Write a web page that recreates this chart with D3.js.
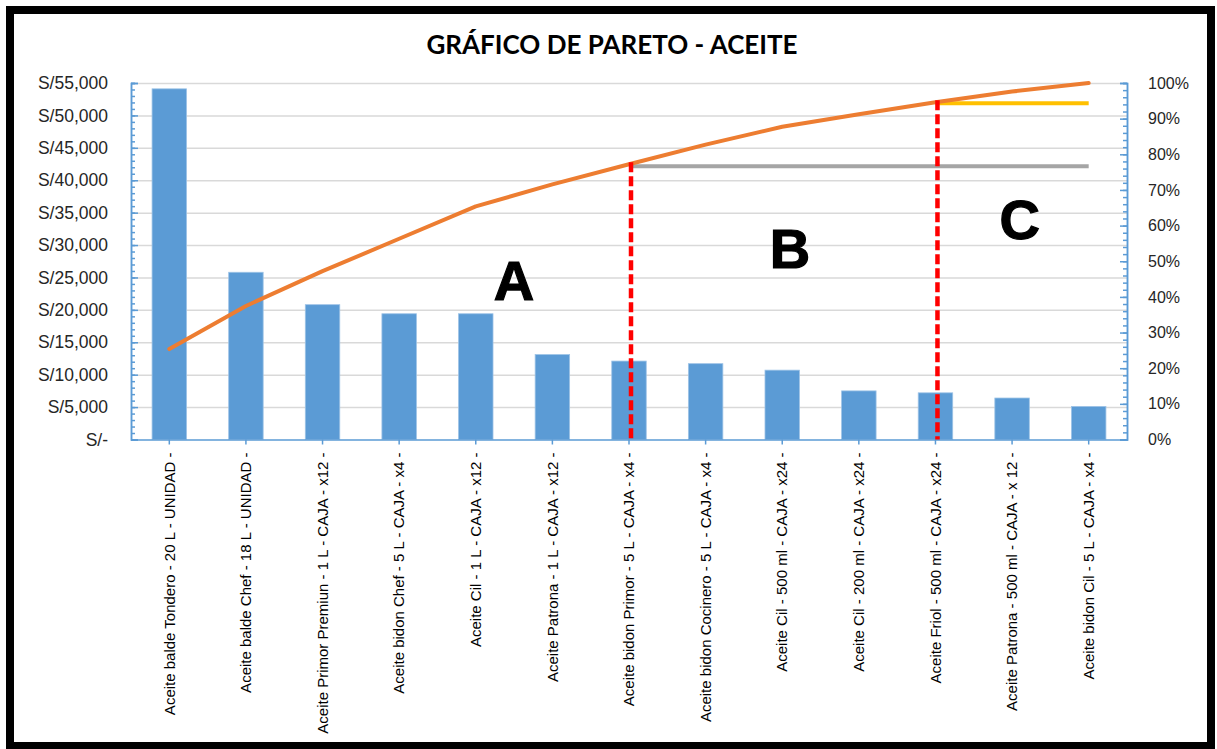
<!DOCTYPE html>
<html>
<head>
<meta charset="utf-8">
<script src="https://cdn.jsdelivr.net/npm/d3@7"></script>
<style>
    body { margin: 0; background: #fff; }
    svg { display: block; font-family: Lato, "Liberation Sans", sans-serif; }
    .grid line { stroke: #d9d9d9; stroke-width: 1.5; }
    .grid path { display: none; }
    .ax path, .ax line { stroke: #5b9bd5; stroke-width: 1.5; }
    .lbl path, .lbl line { display: none; }
    .lbl text { fill: #262626; font-size: 16px; }
    .lbl.izq text { font-size: 17.5px; }
    .xlbl text { fill: #000; font-size: 15px; }
</style>
</head>
<body>
<svg id="pareto"></svg>
<script>
// categories (already sorted as in the chart)
const productos = [
    "Aceite balde Tondero - 20 L - UNIDAD -",
    "Aceite balde Chef - 18 L - UNIDAD -",
    "Aceite Primor Premiun - 1 L - CAJA - x12 -",
    "Aceite bidon Chef - 5 L - CAJA - x4 -",
    "Aceite Cil - 1 L - CAJA - x12 -",
    "Aceite Patrona - 1 L - CAJA - x12 -",
    "Aceite bidon Primor - 5 L - CAJA - x4 -",
    "Aceite bidon Cocinero - 5 L - CAJA - x4 -",
    "Aceite Cil - 500 ml - CAJA - x24 -",
    "Aceite Cil - 200 ml - CAJA - x24 -",
    "Aceite Friol - 500 ml - CAJA - x24 -",
    "Aceite Patrona - 500 ml - CAJA - x 12 -",
    "Aceite bidon Cil - 5 L - CAJA - x4 -"
];
// ventas en soles
const ventas = [54100, 25800, 20800, 19400, 19400, 13100, 12100, 11700, 10700, 7500, 7200, 6400, 5100];

const yTicksLeft = [0, 5000, 10000, 15000, 20000, 25000, 30000, 35000, 40000, 45000, 50000, 55000];
const yTicksRight = [0, 0.1, 0.2, 0.3, 0.4, 0.5, 0.6, 0.7, 0.8, 0.9, 1];

// zone limits: index where A ends and where B ends
const zonaCortes = [6, 10];
const zonas = [
    { letra: "A", idx: 4.5, val: 21500 },
    { letra: "B", idx: 8.1, val: 26500 },
    { letra: "C", idx: 11.1, val: 31000 }
];

const W = 1217, H = 749;
const m = { left: 131, right: 1127, top: 83, bottom: 439.5 };

const svg = d3.select("#pareto").attr("width", W).attr("height", H);

// frame
svg.append("rect")
    .attr("x", 10).attr("y", 10)
    .attr("width", 1201).attr("height", 736)
    .attr("fill", "none").attr("stroke", "#000").attr("stroke-width", 8);

svg.append("text")
    .attr("x", 612).attr("y", 54)
    .attr("text-anchor", "middle")
    .style("font-size", "26px").style("font-weight", "bold")
    .text("GRÁFICO DE PARETO - ACEITE");

// scales
const x = d3.scaleBand()
    .domain(productos)
    .range([m.left, m.right])
    .paddingInner(0.55).paddingOuter(0.275);

const y = d3.scaleLinear().domain([0, 55000]).range([m.bottom, m.top]);
const yPct = d3.scaleLinear().domain([0, 1]).range([m.bottom, m.top]);

// cumulative %
const total = d3.sum(ventas);
const acum = Array.from(d3.cumsum(ventas), v => v / total);

// grid
svg.append("g").attr("class", "grid")
    .attr("transform", "translate(" + m.left + ",0)")
    .call(d3.axisRight(y).tickValues(yTicksLeft.slice(1)).tickSize(m.right - m.left).tickFormat(""));

// bars
svg.append("g").selectAll("rect")
    .data(ventas)
    .join("rect")
    .attr("x", (d, i) => x(productos[i]))
    .attr("y", d => y(d))
    .attr("width", x.bandwidth())
    .attr("height", d => y(0) - y(d))
    .attr("fill", "#5b9bd5")
    .attr("stroke", "#9dc3e6").attr("stroke-width", 0.8);

// left axis: minor ticks, major ticks, labels
svg.append("g").attr("class", "ax")
    .attr("transform", "translate(" + m.left + ",0)")
    .call(d3.axisRight(y).tickValues(d3.range(0, 55001, 1000)).tickSize(4).tickFormat(""));
svg.append("g").attr("class", "ax")
    .attr("transform", "translate(" + m.left + ",0)")
    .call(d3.axisRight(y).tickValues(yTicksLeft).tickSize(7).tickFormat(""));
svg.append("g").attr("class", "lbl izq")
    .attr("transform", "translate(" + m.left + ",0)")
    .call(d3.axisLeft(y).tickValues(yTicksLeft).tickSize(0).tickPadding(23)
        .tickFormat(d => d === 0 ? "S/-" : "S/" + d3.format(",")(d)));

// right axis
svg.append("g").attr("class", "ax")
    .attr("transform", "translate(" + m.right + ",0)")
    .call(d3.axisLeft(yPct).tickValues(d3.range(0, 1.0001, 0.02)).tickSize(4).tickFormat(""));
svg.append("g").attr("class", "ax")
    .attr("transform", "translate(" + m.right + ",0)")
    .call(d3.axisLeft(yPct).tickValues(yTicksRight).tickSize(7).tickFormat(""));
svg.append("g").attr("class", "lbl")
    .attr("transform", "translate(" + m.right + ",0)")
    .call(d3.axisRight(yPct).tickValues(yTicksRight).tickSize(0).tickPadding(21)
        .tickFormat(d3.format(".0%")));

// x axis
const xAxisG = svg.append("g").attr("class", "ax xlbl")
    .attr("transform", "translate(0," + m.bottom + ")")
    .call(d3.axisBottom(x).tickSize(5).tickSizeOuter(0));
xAxisG.selectAll("text")
    .attr("transform", "rotate(-90)")
    .attr("text-anchor", "end")
    .attr("x", -13).attr("y", 0).attr("dy", "0.35em");

const cx = i => x(productos[i]) + x.bandwidth() / 2;
const last = productos.length - 1;

// horizontal reference lines
svg.append("line")
    .attr("x1", cx(zonaCortes[0])).attr("x2", cx(last))
    .attr("y1", yPct(acum[zonaCortes[0]]) + 2).attr("y2", yPct(acum[zonaCortes[0]]) + 2)
    .attr("stroke", "#a5a5a5").attr("stroke-width", 4);
svg.append("line")
    .attr("x1", cx(zonaCortes[1])).attr("x2", cx(last))
    .attr("y1", yPct(acum[zonaCortes[1]]) + 1).attr("y2", yPct(acum[zonaCortes[1]]) + 1)
    .attr("stroke", "#ffc000").attr("stroke-width", 4);

// pareto line
svg.append("path")
    .datum(acum)
    .attr("d", d3.line().x((d, i) => cx(i)).y(d => yPct(d)))
    .attr("fill", "none")
    .attr("stroke", "#ed7d31").attr("stroke-width", 4)
    .attr("stroke-linejoin", "round").attr("stroke-linecap", "round");

// dashed cuts
svg.append("g").selectAll("line")
    .data(zonaCortes)
    .join("line")
    .attr("x1", d => cx(d) + 2).attr("x2", d => cx(d) + 2)
    .attr("y1", d => yPct(acum[d]) - 2).attr("y2", m.bottom)
    .attr("stroke", "#ff0000").attr("stroke-width", 4.5)
    .attr("stroke-dasharray", "10,4");

// zone letters
svg.append("g").selectAll("text")
    .data(zonas)
    .join("text")
    .attr("x", d => cx(0) + d.idx * x.step())
    .attr("y", d => y(d.val))
    .attr("text-anchor", "middle")
    .style("font-family", "'Liberation Sans', Arial, sans-serif")
    .style("font-weight", "900").style("font-size", "56px")
    .style("stroke", "#000").style("stroke-width", 1.2)
    .text(d => d.letra);
</script>
</body>
</html>
